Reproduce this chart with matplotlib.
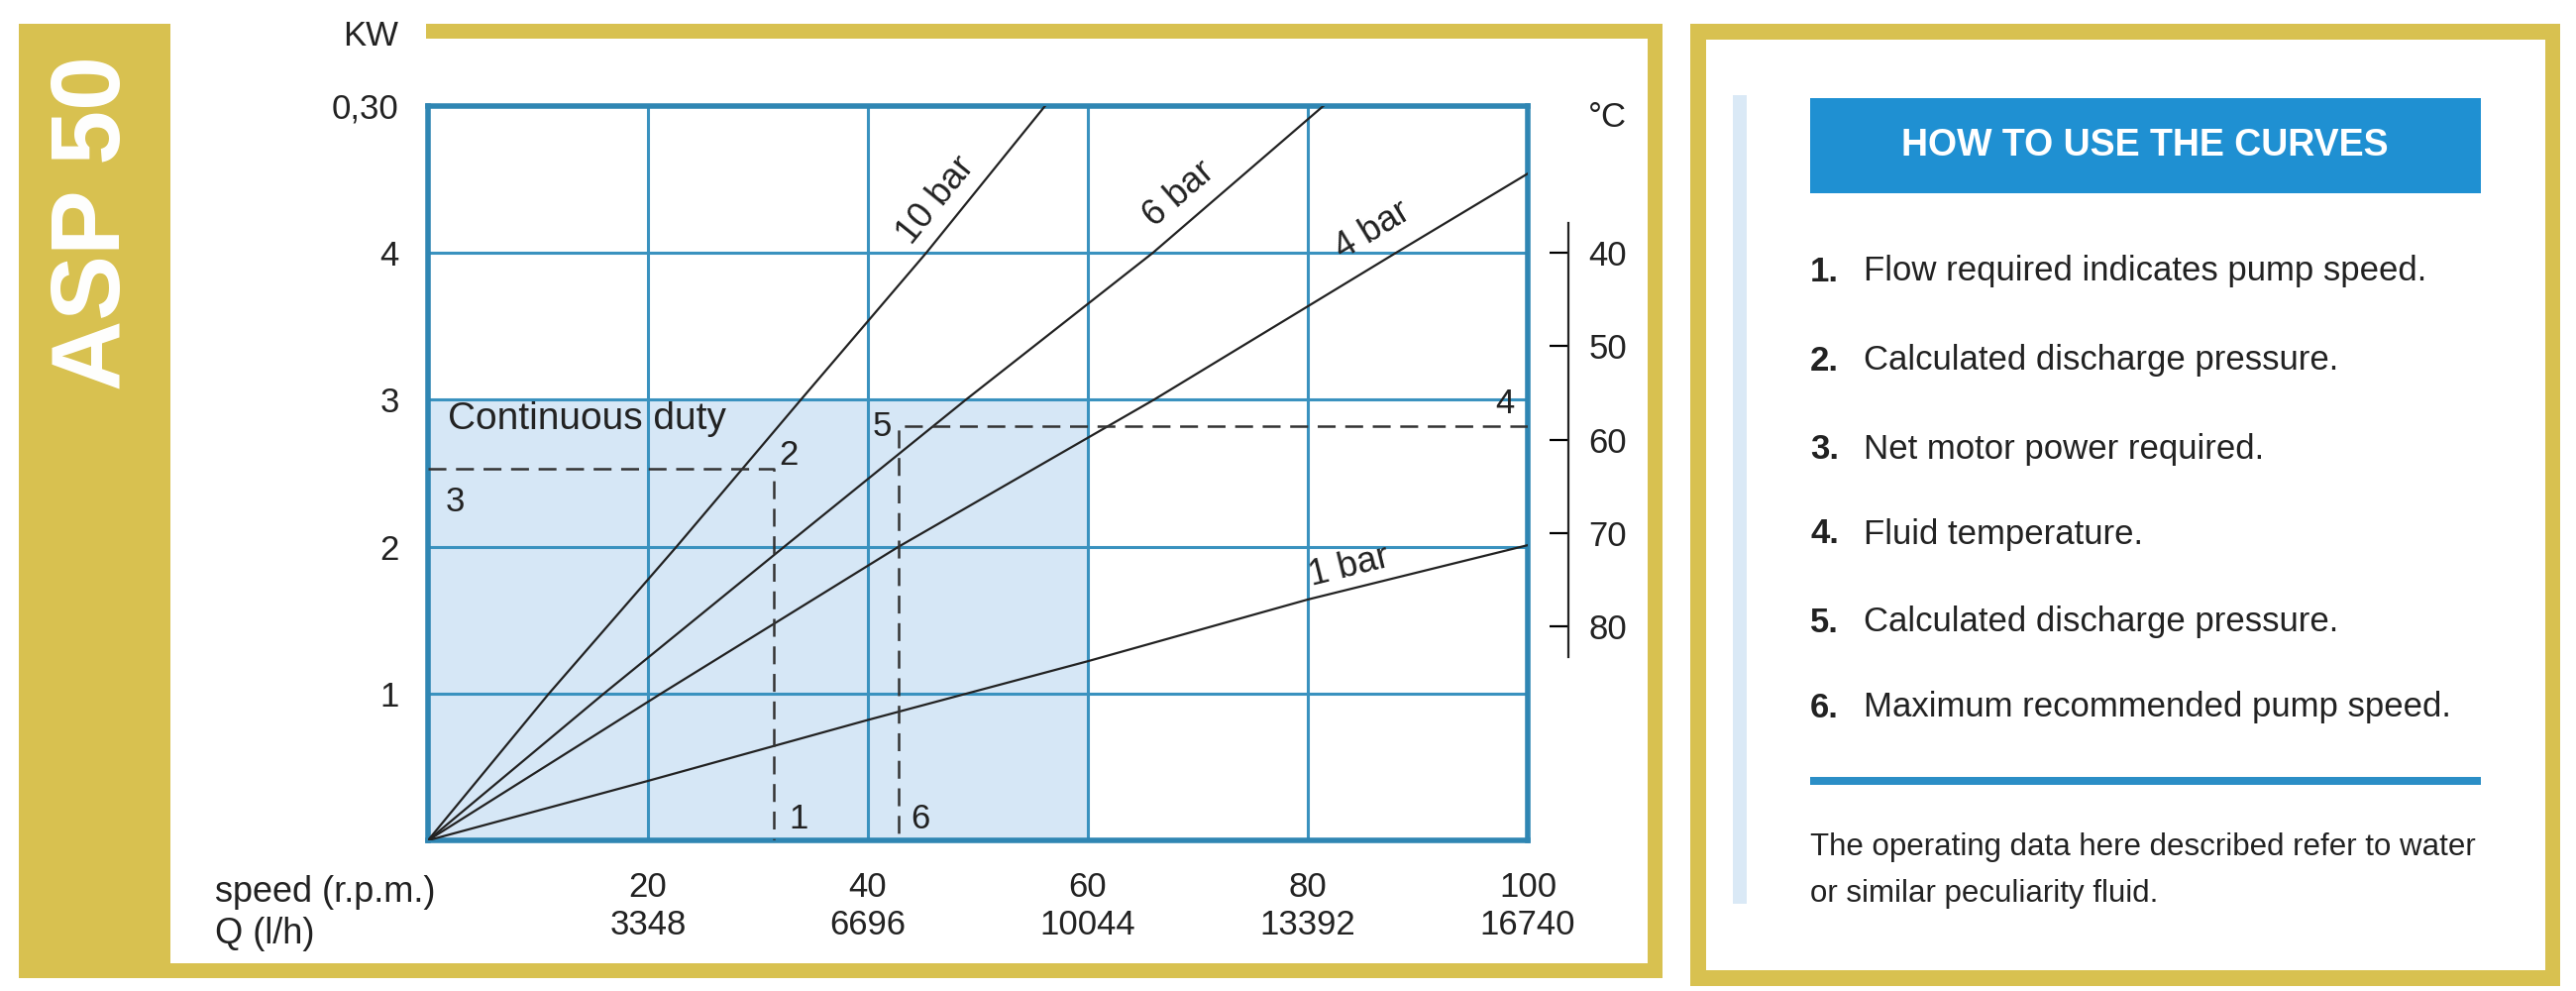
import numpy as np
import matplotlib
matplotlib.use("Agg")
import matplotlib.pyplot as plt
from matplotlib.patches import Rectangle

plt.rcParams["font.family"] = ["Liberation Sans", "DejaVu Sans"]
plt.rcParams["lines.scale_dashes"] = False

# --- data ---
speed_ticks = [20, 40, 60, 80, 100]
flow_ticks = [3348, 6696, 10044, 13392, 16740]
kw_ticks = [1, 2, 3, 4, 5]
kw_labels = ["1", "2", "3", "4", "0,30"]
temp_ticks = [40, 50, 60, 70, 80]

curve_names = ["10 bar", "6 bar", "4 bar", "1 bar"]
speed_10bar = [0, 11.0, 22.6, 33.9, 45.3, 56.1]
kw_10bar = [0, 1, 2, 3, 4, 5]
speed_6bar = [0, 16.0, 32.4, 48.9, 65.9, 81.4]
kw_6bar = [0, 1, 2, 3, 4, 5]
speed_4bar = [0, 21.2, 42.8, 66.0, 88.0, 100]
kw_4bar = [0, 1, 2, 3, 4, 4.54]
speed_1bar = [0, 20, 40, 60, 80, 100]
kw_1bar = [0, 0.405, 0.82, 1.22, 1.64, 2.01]

# continuous duty zone (speed limit, kW limit)
duty_speed = 60
duty_kw = 3

# worked examples: (speed, kW) corners of the dashed guides
example_a = (31.4, 2.53)
example_b = (42.8, 2.82)

steps = ["Flow required indicates pump speed.",
         "Calculated discharge pressure.",
         "Net motor power required.",
         "Fluid temperature.",
         "Calculated discharge pressure.",
         "Maximum recommended pump speed."]

W, H = 2600, 1000
GOLD = "#d8c150"
GRID = "#3a92bf"
EDGE = "#2f86b3"
FILL = "#d6e7f6"
INK = "#222222"


def fx(x):
    return x / W


def fy(y):
    return 1 - y / H


def px_rect(fig, x0, y0, x1, y1, color):
    fig.add_artist(Rectangle((fx(x0), fy(y1)), (x1 - x0) / W, (y1 - y0) / H,
                             transform=fig.transFigure, color=color, lw=0))


def curve_angle(ax, xs, ys, x0):
    i = int(np.clip(np.searchsorted(xs, x0), 1, len(xs) - 1))
    p1 = ax.transData.transform((xs[i - 1], ys[i - 1]))
    p2 = ax.transData.transform((xs[i], ys[i]))
    return np.degrees(np.arctan2(p2[1] - p1[1], p2[0] - p1[0]))


fig = plt.figure(figsize=(26, 10), dpi=100)
fig.patch.set_facecolor("white")

# --- gold frames ---
px_rect(fig, 19, 24, 172, 987, GOLD)
px_rect(fig, 19, 972, 1678, 987, GOLD)
px_rect(fig, 430, 24, 1678, 39, GOLD)
px_rect(fig, 1663, 24, 1678, 987, GOLD)
px_rect(fig, 1706, 24, 2584, 40, GOLD)
px_rect(fig, 1706, 979, 2584, 995, GOLD)
px_rect(fig, 1706, 24, 1722, 995, GOLD)
px_rect(fig, 2569, 24, 2584, 995, GOLD)

fig.text(fx(96), fy(225), "ASP 50", rotation=90, color="white",
         fontsize=71, fontweight="bold", ha="center", va="center")

# --- main chart ---
ax = fig.add_axes([fx(432), fy(848), 1110 / W, 741 / H])
ax.set_xlim(0, 100)
ax.set_ylim(0, 5)
ax.add_patch(Rectangle((0, 0), duty_speed, duty_kw, color=FILL, lw=0, zorder=0))
ax.set_xticks(speed_ticks)
ax.set_xticklabels([f"{s}\n{q}" for s, q in zip(speed_ticks, flow_ticks)],
                   fontsize=25, color=INK, linespacing=1.2)
ax.set_yticks(kw_ticks)
ax.set_yticklabels(kw_labels, fontsize=25, color=INK)
ax.tick_params(axis="x", length=0, pad=22)
ax.tick_params(axis="y", length=0, pad=21)
ax.grid(True, color=GRID, lw=2.2, zorder=1)
ax.set_axisbelow(True)
for sp in ax.spines.values():
    sp.set_color(EDGE)
    sp.set_linewidth(4)

curves = [(speed_10bar, kw_10bar), (speed_6bar, kw_6bar),
          (speed_4bar, kw_4bar), (speed_1bar, kw_1bar)]
for xs, ys in curves:
    ax.plot(xs, ys, color=INK, lw=1.6, zorder=3, clip_on=True)

# curve labels sit along their lines
label_pos = [(46.2, 4.36), (68.3, 4.40), (85.9, 4.15), (83.8, 1.86)]
for name, (xs, ys), (lx, ly) in zip(curve_names, curves, label_pos):
    ang = curve_angle(ax, xs, ys, lx)
    ax.text(lx, ly, name, fontsize=26, color=INK, rotation=ang,
            rotation_mode="anchor", ha="center", va="center", zorder=4)

# dashed guides
dash = dict(color="#333333", lw=1.8, dashes=(13, 7), zorder=3)
ax.plot([0, example_a[0], example_a[0]], [example_a[1], example_a[1], 0], **dash)
ax.plot([100, example_b[0], example_b[0]], [example_b[1], example_b[1], 0], **dash)

num = dict(fontsize=25, color=INK, zorder=4)
ax.text(example_a[0] + 1.4, 0.08, "1", ha="left", va="baseline", **num)
ax.text(example_a[0] + 0.5, example_a[1] + 0.03, "2", ha="left", va="baseline", **num)
ax.text(1.6, example_a[1] - 0.29, "3", ha="left", va="baseline", **num)
ax.text(98.8, example_b[1] + 0.09, "4", ha="right", va="baseline", **num)
ax.text(example_b[0] - 0.6, example_b[1], "5", ha="right", va="center", **num)
ax.text(example_b[0] + 1.1, 0.08, "6", ha="left", va="baseline", **num)

ax.text(1.8, duty_kw - 0.2, "Continuous duty", fontsize=28, color=INK,
        ha="left", va="baseline", zorder=4)

fig.text(fx(402), fy(37), "KW", fontsize=25, color=INK, ha="right", va="center")
fig.text(fx(217), fy(900), "speed (r.p.m.)", fontsize=26, color=INK,
         ha="left", va="center")
fig.text(fx(217), fy(942), "Q (l/h)", fontsize=26, color=INK,
         ha="left", va="center")

# --- temperature scale ---
axt = fig.add_axes([fx(1583), fy(663), 0.0005, 438 / H])
axt.set_ylim(83.3, 36.8)
axt.set_xticks([])
axt.set_yticks(temp_ticks)
axt.set_yticklabels([str(t) for t in temp_ticks], fontsize=25, color=INK)
axt.tick_params(axis="y", direction="out", length=14, width=1.6,
                left=True, right=False, labelleft=False, labelright=True, pad=0)
axt.patch.set_alpha(0)
for side in ["top", "bottom", "right"]:
    axt.spines[side].set_visible(False)
axt.spines["left"].set_linewidth(1.6)
axt.spines["left"].set_color(INK)
fig.text(fx(1622), fy(118), "°C", fontsize=25, color=INK, ha="center", va="center")

# --- instructions panel ---
px_rect(fig, 1749, 96, 1763, 912, "#dae9f6")
px_rect(fig, 1827, 99, 2504, 195, "#1f90d2")
fig.text(fx(2165), fy(147), "HOW TO USE THE CURVES", fontsize=27,
         fontweight="bold", color="white", ha="center", va="center")

step_y = [274, 364, 453, 539, 628, 714]
for i, (txt, y) in enumerate(zip(steps, step_y), start=1):
    fig.text(fx(1827), fy(y), f"{i}.", fontsize=25, fontweight="bold",
             color=INK, ha="left", va="center")
    fig.text(fx(1881), fy(y), txt, fontsize=25, color=INK,
             ha="left", va="center")

px_rect(fig, 1827, 784, 2504, 792, "#2b8ec6")
fig.text(fx(1827), fy(855), "The operating data here described refer to water",
         fontsize=22.5, color=INK, ha="left", va="center")
fig.text(fx(1827), fy(902), "or similar peculiarity fluid.",
         fontsize=22.5, color=INK, ha="left", va="center")

fig.savefig("out.png", dpi=100)
